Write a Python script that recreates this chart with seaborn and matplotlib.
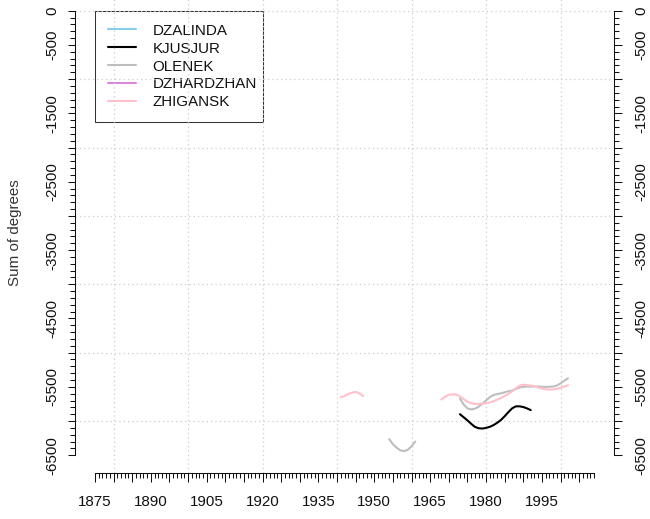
import matplotlib
matplotlib.use("Agg")
import matplotlib.pyplot as plt
import pandas as pd
import seaborn as sns
from matplotlib.lines import Line2D
from matplotlib.ticker import FixedLocator, FuncFormatter

# ---------------- data ----------------
stations = ["DZALINDA", "KJUSJUR", "OLENEK", "DZHARDZHAN", "ZHIGANSK"]
colors = ["#87CEEB", "#000000", "#BEBEBE", "#DA88DA", "#FFC0CB"]

kjusjur_years = list(range(1973, 1993))
kjusjur_values = [-5900, -5945, -5990, -6040, -6085, -6105, -6110, -6100, -6085, -6060,
                  -6025, -5985, -5930, -5870, -5815, -5785, -5785, -5795, -5815, -5840]

olenek_a_years = list(range(1954, 1962))
olenek_a_values = [-6265, -6340, -6390, -6430, -6440, -6420, -6370, -6300]

olenek_b_years = list(range(1973, 2003))
olenek_b_values = [-5670, -5760, -5815, -5830, -5820, -5790, -5750, -5700, -5650, -5620,
                   -5605, -5595, -5580, -5565, -5555, -5530, -5510, -5500, -5495, -5495,
                   -5495, -5495, -5500, -5500, -5500, -5495, -5480, -5450, -5410, -5375]

zhigansk_a_years = list(range(1941, 1948))
zhigansk_a_values = [-5650, -5635, -5605, -5585, -5575, -5595, -5635]

zhigansk_b_years = list(range(1968, 2003))
zhigansk_b_values = [-5685, -5645, -5615, -5610, -5612, -5640, -5680, -5715, -5740, -5750,
                     -5750, -5745, -5740, -5730, -5710, -5685, -5665, -5635, -5605, -5565,
                     -5520, -5480, -5470, -5475, -5480, -5490, -5510, -5525, -5535, -5540,
                     -5538, -5530, -5515, -5495, -5478]

x_tick_labels = [1875, 1890, 1905, 1920, 1935, 1950, 1965, 1980, 1995]
y_tick_labels = [0, -500, -1500, -2500, -3500, -4500, -5500, -6500]
x_grid = [1880, 1900, 1920, 1940, 1960, 1980, 2000]
y_grid = [0, -1000, -2000, -3000, -4000, -5000, -6000]

segments = [
    ("KJUSJUR", "k1", kjusjur_years, kjusjur_values),
    ("OLENEK", "o1", olenek_a_years, olenek_a_values),
    ("OLENEK", "o2", olenek_b_years, olenek_b_values),
    ("ZHIGANSK", "z1", zhigansk_a_years, zhigansk_a_values),
    ("ZHIGANSK", "z2", zhigansk_b_years, zhigansk_b_values),
]
rows = []
for st, seg, ys, vs in segments:
    for y, v in zip(ys, vs):
        rows.append({"station": st, "segment": seg, "year": y, "value": v})
df = pd.DataFrame(rows)

# ---------------- plot ----------------
sns.set_style("white")
plt.rcParams["font.family"] = ["Liberation Sans", "DejaVu Sans"]
FS = 10.9
TXT = "#111111"

fig = plt.figure(figsize=(6.5, 5.19), dpi=100)
ax = fig.add_axes([75 / 650, 46 / 519, 539 / 650, 480 / 519])

present = [s for s in stations if s in set(df["station"])]
pal = dict(zip(stations, colors))
sns.lineplot(data=df, x="year", y="value", hue="station", units="segment",
             estimator=None, hue_order=present, palette=pal, legend=False,
             linewidth=1.5, sort=False, ax=ax, zorder=3)

XLIM = (1869.64, 2014.36)
YLIM = (-6760, 260)
ax.set_xlim(*XLIM)
ax.set_ylim(*YLIM)

for gx in x_grid:
    ax.axvline(gx, color="#CCCCCC", lw=0.9, ls=(0, (1, 2.5)), zorder=1)
for gy in y_grid:
    ax.axhline(gy, color="#CCCCCC", lw=0.9, ls=(0, (1, 2.5)), zorder=1)

ax.set_xlabel("")
ax.set_ylabel("")

xfmt = FuncFormatter(lambda v, p: str(int(round(v))) if int(round(v)) in x_tick_labels else "")
yfmt = FuncFormatter(lambda v, p: str(int(round(v))) if int(round(v)) in y_tick_labels else "")

ax.xaxis.set_major_locator(FixedLocator(list(range(1875, 2010, 5))))
ax.xaxis.set_minor_locator(FixedLocator(list(range(1875, 2010))))
ax.xaxis.set_major_formatter(xfmt)

ax.tick_params(axis="x", which="major", bottom=True, length=6.5, width=0.75,
               pad=9, labelsize=FS, colors=TXT)
ax.tick_params(axis="x", which="minor", bottom=True, length=3.6, width=0.75, color=TXT)

# right axis as twin
ax2 = ax.twinx()
ax2.set_ylim(*YLIM)
for a, side, pad, ln in [(ax, "left", 5.6, 5.3), (ax2, "right", 9.2, 5.8)]:
    a.yaxis.set_major_locator(FixedLocator(list(range(-6500, 1, 500))))
    a.yaxis.set_minor_locator(FixedLocator(list(range(-6500, 1, 100))))
    a.yaxis.set_major_formatter(yfmt)
    a.tick_params(axis="y", which="major", length=ln, width=0.75, pad=pad,
                  labelsize=FS, labelrotation=90, colors=TXT)
    a.tick_params(axis="y", which="minor", length=3.6, width=0.75, color=TXT)
    for t in a.yaxis.get_major_ticks():
        t.label1.set_va("center")
        t.label2.set_va("center")
    for s in a.spines.values():
        s.set_visible(False)
    a.spines[side].set_visible(True)
    a.spines[side].set_bounds(-6500, 0)
    a.spines[side].set_linewidth(0.75)
    a.spines[side].set_color(TXT)
ax2.tick_params(axis="y", which="both", left=False, right=True,
                labelleft=False, labelright=True)
ax.tick_params(axis="y", which="both", left=True, right=False,
               labelleft=True, labelright=False)
ax2.set_ylabel("")

ax.spines["bottom"].set_visible(True)
ax.spines["bottom"].set_bounds(1875, 2009)
ax.spines["bottom"].set_linewidth(0.75)
ax.spines["bottom"].set_color(TXT)

fig.text(15 / 650, 1 - 233 / 519, "Sum of degrees", rotation=90, ha="center",
         va="center", fontsize=FS, color="#333333")

handles = [Line2D([0], [0], color=c, lw=1.5) for c in colors]
leg = ax.legend(handles, stations, loc="upper left",
                bbox_to_anchor=(1875, -1628, 45, 1628), bbox_transform=ax.transData,
                mode="expand", borderaxespad=0, frameon=True, fancybox=False,
                edgecolor="black", handlelength=1.84, handletextpad=1.1,
                borderpad=0.85, labelspacing=0.26, fontsize=FS)
leg.get_frame().set_facecolor("none")
leg.get_frame().set_linewidth(0.75)
leg.set_zorder(0.5)
for txt in leg.get_texts():
    txt.set_color(TXT)

fig.savefig("out.png", dpi=100)
